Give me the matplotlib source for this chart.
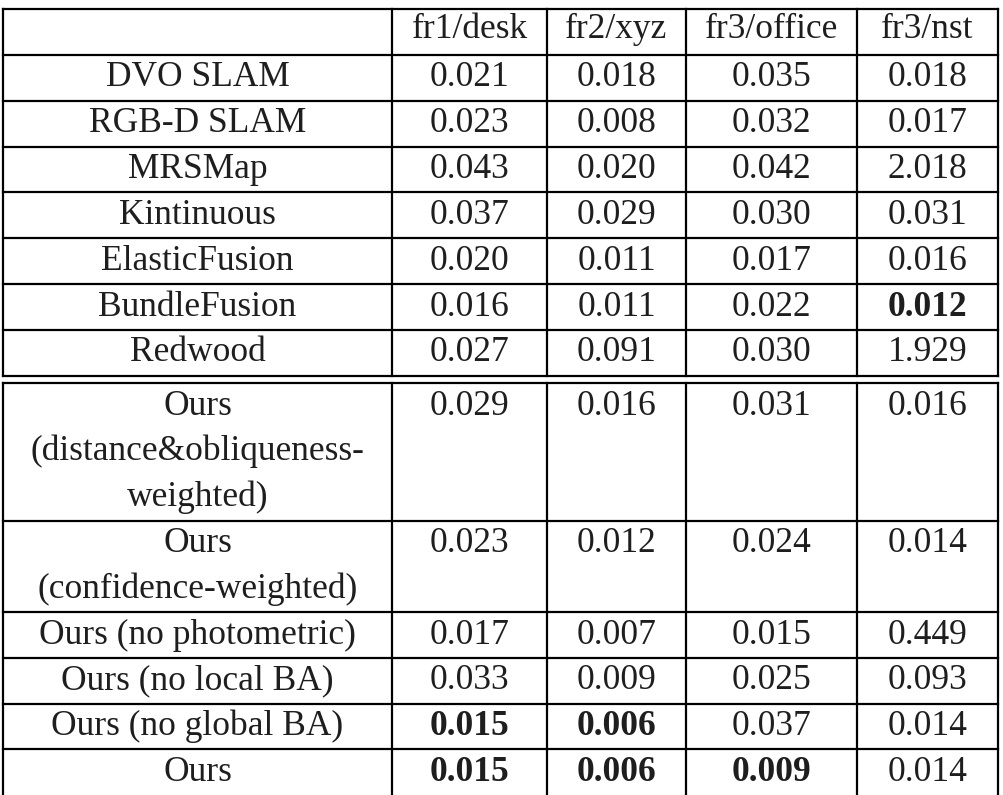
import numpy as np
import matplotlib
matplotlib.use("Agg")
import matplotlib.pyplot as plt

# table content
columns = ["fr1/desk", "fr2/xyz", "fr3/office", "fr3/nst"]

methods_top = ["DVO SLAM", "RGB-D SLAM", "MRSMap", "Kintinuous",
               "ElasticFusion", "BundleFusion", "Redwood"]
methods_ours = [["Ours", "(distance&obliqueness-", "weighted)"],
                ["Ours", "(confidence-weighted)"],
                ["Ours (no photometric)"],
                ["Ours (no local BA)"],
                ["Ours (no global BA)"],
                ["Ours"]]

fr1_desk = [0.021, 0.023, 0.043, 0.037, 0.020, 0.016, 0.027,
            0.029, 0.023, 0.017, 0.033, 0.015, 0.015]
fr2_xyz = [0.018, 0.008, 0.020, 0.029, 0.011, 0.011, 0.091,
           0.016, 0.012, 0.007, 0.009, 0.006, 0.006]
fr3_office = [0.035, 0.032, 0.042, 0.030, 0.017, 0.022, 0.030,
              0.031, 0.024, 0.015, 0.025, 0.037, 0.009]
fr3_nst = [0.018, 0.017, 2.018, 0.031, 0.016, 0.012, 1.929,
           0.016, 0.014, 0.449, 0.093, 0.014, 0.014]

# (row, column) of the bold entries
bold_cells = [(5, 3), (11, 0), (11, 1), (12, 0), (12, 1), (12, 2)]

# layout (pixels)
W, H = 1004, 795
col_edges = [3, 392, 547, 686, 857, 998]
line_h = 45.8
header_top, header_bot = 9, 55
gap_top = header_bot + line_h * len(methods_top)
gap_bot = gap_top + 7.5
fs = 25.5
txt_col = "#1e1e1e"
lw = 1.6

fig = plt.figure(figsize=(W / 100, H / 100), dpi=100)
ax = fig.add_axes([0, 0, 1, 1])
ax.set_xlim(0, W)
ax.set_ylim(H, 0)
ax.axis("off")

values = np.array([fr1_desk, fr2_xyz, fr3_office, fr3_nst]).T
centers = [(col_edges[i] + col_edges[i + 1]) / 2 for i in range(len(col_edges) - 1)]


def put(x, y, s, bold=False):
    ax.text(x, y, s, ha="center", va="baseline", fontsize=fs,
            family="Liberation Serif", fontweight="bold" if bold else "normal",
            color=txt_col)


# header
for c, name in enumerate(columns):
    put(centers[c + 1], header_top + 28.5, name)

# row tops
rows = [[m] for m in methods_top] + methods_ours
tops = []
y = header_bot
for i, r in enumerate(rows):
    if i == len(methods_top):
        y = gap_bot
    tops.append(y)
    y += line_h * len(r)
bottom = y

for i, r in enumerate(rows):
    for k, line in enumerate(r):
        put(centers[0], tops[i] + k * line_h + 31.5, line)
    for c in range(4):
        put(centers[c + 1], tops[i] + 31.5, "%.3f" % values[i, c],
            bold=(i, c) in bold_cells)

# grid lines
hl = [header_top, header_bot] + tops[1:len(methods_top)] + [gap_top, gap_bot] + tops[len(methods_top) + 1:]
for yy in hl:
    ax.plot([col_edges[0], col_edges[-1]], [yy, yy], color="black", lw=lw,
            solid_capstyle="projecting")
for xx in col_edges:
    ax.plot([xx, xx], [header_top, gap_top], color="black", lw=lw)
    ax.plot([xx, xx], [gap_bot, bottom], color="black", lw=lw)

fig.savefig("out.png", dpi=100, facecolor="white")
